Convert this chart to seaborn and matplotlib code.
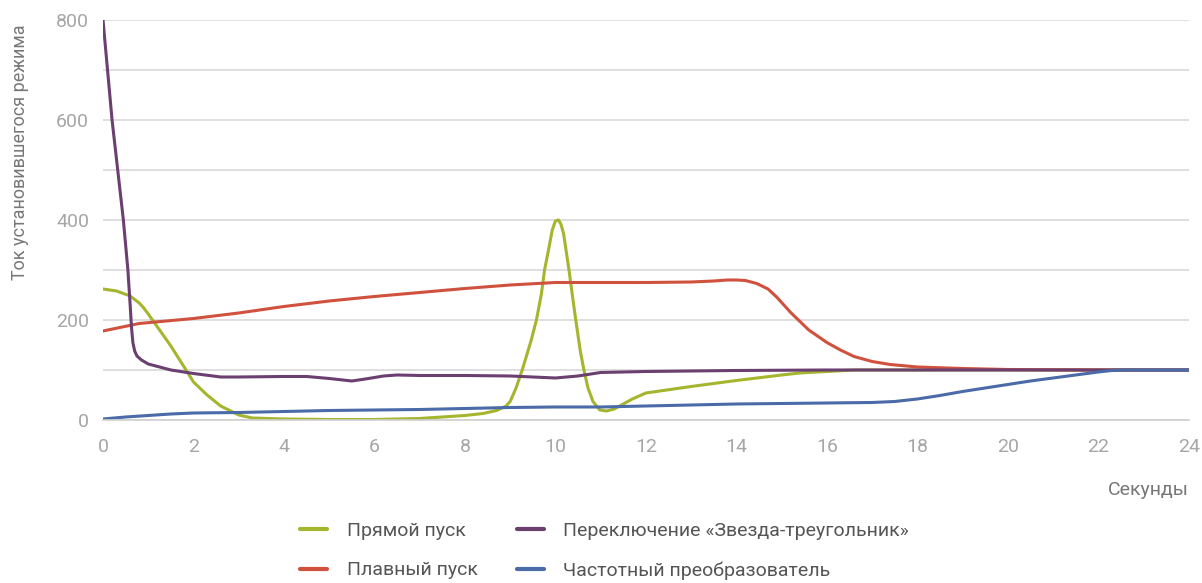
import numpy as np
import pandas as pd
import matplotlib
matplotlib.use('Agg')
import matplotlib.pyplot as plt
import seaborn as sns
from matplotlib.ticker import MultipleLocator

# Прямой пуск
direct_x = [0, 0.3, 0.6, 0.8, 0.9, 1.0, 1.5, 1.8, 2.0, 2.3, 2.6, 3.0, 3.3, 4, 5,
            6, 6.5, 7, 7.5, 8, 8.4, 8.7, 8.91, 9.0, 9.13, 9.28, 9.46, 9.58, 9.69,
            9.76, 9.86, 9.93, 10.0, 10.07, 10.12, 10.18, 10.3, 10.39, 10.45,
            10.55, 10.63, 10.72, 10.83, 10.98, 11.13, 11.3, 11.5, 11.7, 12, 13,
            14, 15, 15.4, 16, 16.6, 17, 18, 20, 22, 24]
direct_y = [262, 258, 248, 234, 224, 212, 148, 105, 76, 50, 28, 10, 4, 2, 1,
            1, 2, 3, 6, 9, 13, 19, 28, 37, 64, 104, 158, 200, 252,
            300, 346, 380, 398, 400, 392, 373, 300, 239, 200,
            138, 100, 64, 37, 20, 18, 22, 32, 42, 54, 67,
            79, 90, 94, 97, 100, 100, 100, 100, 100, 100]

# Плавный пуск
soft_x = [0, 0.8, 2, 3, 4, 5, 6, 7, 8, 9, 10, 11, 12, 13, 13.5, 13.8, 14.0,
          14.2, 14.45, 14.7, 14.9, 15.2, 15.6, 16, 16.3, 16.6, 17, 17.4, 18,
          19, 20, 22, 24]
soft_y = [178, 193, 203, 214, 227, 238, 247, 255, 263, 270, 275, 275, 275, 276,
          278, 280, 280, 279, 273, 262, 245, 215, 180, 155, 140, 127, 117, 111,
          106, 103, 101, 100, 100]

# Переключение «Звезда-треугольник»
star_x = [0, 0.2, 0.45, 0.55, 0.6, 0.63, 0.66, 0.7, 0.75, 0.85, 1.0, 1.5, 2.0,
          2.6, 3, 4, 4.5, 5, 5.5, 5.8, 6.2, 6.5, 7, 8, 9, 10, 10.5, 11, 12, 14,
          16, 24]
star_y = [800, 600, 400, 300, 230, 185, 155, 138, 128, 120, 112, 100, 93,
          86, 86, 87, 87, 83, 78, 82, 88, 90, 89, 89, 88, 84, 88, 95, 97, 99,
          100, 100]

# Частотный преобразователь
vfd_x = [0, 0.5, 1, 1.5, 2, 3, 4, 5, 6, 7, 8, 9, 10, 11, 12, 13, 14, 15, 16,
         17, 17.5, 18, 18.5, 19, 19.5, 20, 20.5, 21, 21.5, 22, 22.3, 22.6, 24]
vfd_y = [2, 6, 9, 12, 14, 15, 17, 19, 20, 21, 23, 25, 26, 26, 28, 30, 32, 33,
         34, 35, 37, 42, 49, 57, 64, 71, 78, 84, 90, 96, 99, 100, 100]

labels = ['Прямой пуск', 'Плавный пуск',
          'Переключение «Звезда-треугольник»', 'Частотный преобразователь']
colors = ['#a5b52e', '#d0513d', '#6b3f70', '#4a6aa8']

series = [(direct_x, direct_y), (soft_x, soft_y), (star_x, star_y), (vfd_x, vfd_y)]
frames = []
for name, (xs, ys) in zip(labels, series):
    frames.append(pd.DataFrame({'t': xs, 'I': ys, 'mode': name}))
df = pd.concat(frames, ignore_index=True)

sns.set_style('white')
plt.rcParams['font.family'] = ['Roboto', 'DejaVu Sans']

fig = plt.figure(figsize=(12.02, 5.83), dpi=100)
ax = fig.add_axes([0.0857, 0.2796, 0.9033, 0.6861])

sns.lineplot(data=df, x='t', y='I', hue='mode', palette=dict(zip(labels, colors)),
             hue_order=labels, estimator=None, sort=False, linewidth=2.2, ax=ax,
             legend=False)
for ln in ax.lines:
    ln.set_solid_joinstyle('round')

ax.set_xlim(0, 24)
ax.set_ylim(0, 800)
ax.xaxis.set_major_locator(MultipleLocator(2))
ax.xaxis.set_minor_locator(MultipleLocator(1))
ax.yaxis.set_major_locator(MultipleLocator(200))
ax.yaxis.set_minor_locator(MultipleLocator(100))
ax.grid(True, which='both', axis='y', color='#d9d9d9', linewidth=1.2)
ax.set_axisbelow(True)

for side in ['top', 'right', 'left']:
    ax.spines[side].set_visible(False)
ax.spines['bottom'].set_color('#d0d0d0')
ax.spines['bottom'].set_linewidth(1.2)

ax.tick_params(axis='x', which='both', direction='out', color='#d0d0d0',
               width=1.2, length=7, labelsize=14, labelcolor='#a6a6a6', pad=6)
ax.tick_params(axis='y', which='both', length=0, labelsize=14,
               labelcolor='#a6a6a6', pad=10)

ax.set_xlabel('')
ax.set_ylabel('Ток установившегося режима', fontsize=13, color='#777777')
ax.yaxis.set_label_coords(-0.068, 0.67)
ax.text(1.0, -0.175, 'Секунды', transform=ax.transAxes, ha='right', va='center',
        fontsize=14, color='#777777')

handles = [plt.Line2D([], [], color=c, linewidth=3) for c in colors]
fig.legend(handles, labels, ncol=2, loc='center', bbox_to_anchor=(0.503, 0.055),
           frameon=False, fontsize=14, handlelength=1.4, handletextpad=1.0,
           columnspacing=2.0, labelspacing=1.1, labelcolor='#555555')

fig.savefig('out.png', dpi=100)
